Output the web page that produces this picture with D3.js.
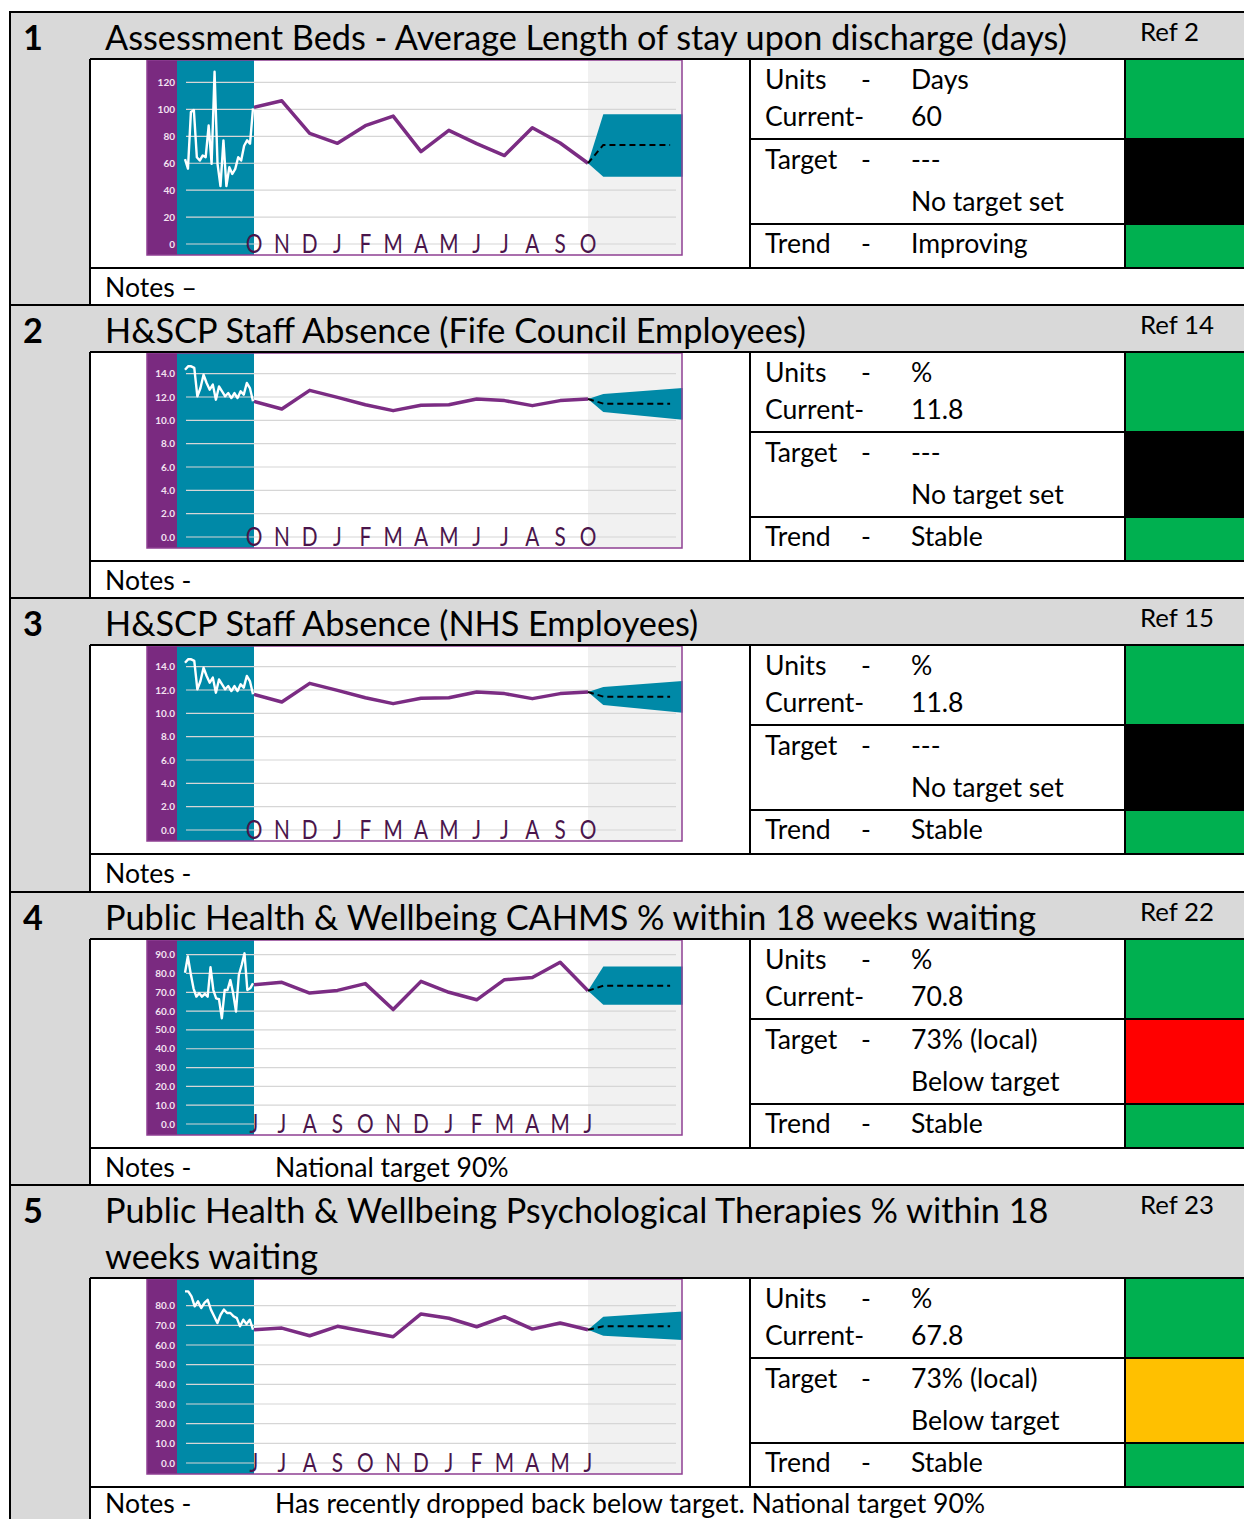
<!DOCTYPE html>
<html><head><meta charset="utf-8">
<script src="https://cdn.jsdelivr.net/npm/d3@7"></script>
<style>
body{margin:0;background:#fff}
svg{display:block}
text{font-family:Lato,"Open Sans",sans-serif}
</style>
</head><body>
<svg id="c" width="1244" height="1519"></svg>
<script>
// ---------------- DATA ----------------
const sectionNumbers = ["1","2","3","4","5"];
const titleLines = [
  ["Assessment Beds - Average Length of stay upon discharge (days)"],
  ["H&SCP Staff Absence (Fife Council Employees)"],
  ["H&SCP Staff Absence (NHS Employees)"],
  ["Public Health & Wellbeing CAHMS % within 18 weeks waiting"],
  ["Public Health & Wellbeing Psychological Therapies % within 18","weeks waiting"]
];
const refs = ["Ref 2","Ref 14","Ref 15","Ref 22","Ref 23"];
const units = ["Days","%","%","%","%"];
const currents = ["60","11.8","11.8","70.8","67.8"];
const targets = ["---","---","---","73% (local)","73% (local)"];
const targetNotes = ["No target set","No target set","No target set","Below target","Below target"];
const trends = ["Improving","Stable","Stable","Stable","Stable"];
const currentColors = ["#00b050","#00b050","#00b050","#00b050","#00b050"];
const targetColors = ["#000000","#000000","#000000","#ff0000","#ffc000"];
const trendColors = ["#00b050","#00b050","#00b050","#00b050","#00b050"];
const notesLabels = ["Notes \u2013","Notes -","Notes -","Notes -","Notes -"];
const notesTexts = ["","","","National target 90%","Has recently dropped back below target. National target 90%"];

const monthsOct = ["O","N","D","J","F","M","A","M","J","J","A","S","O"];
const monthsJun = ["J","J","A","S","O","N","D","J","F","M","A","M","J"];

// chart 1 : Assessment beds
const values1 = [101.5,106.4,82.2,74.8,87.9,95,68.6,84.4,74.6,65.7,86.4,75,60];
const spark1 = [63,56,98,99.5,64.5,62,65.8,64.5,88,59.5,128,59.5,43,77,43,57,52,55.8,64.5,62,73,77,74.5,100.8];
const fcMid1 = [60,73.6,73.6];
const fcUp1 = [60,96.3,96.3];
const fcLo1 = [60,50,50];
// chart 2 : Fife Council absence
const values2 = [11.63,10.97,12.57,11.97,11.34,10.83,11.29,11.34,11.83,11.69,11.26,11.69,11.83];
const spark2 = [14.34,14.63,14.63,14.5,12.06,12.77,13.91,13.2,12.63,13.06,11.77,12.9,12.49,12.06,12.34,11.91,12.34,11.91,12.49,12.2,13.2,12.77,11.63];
const fcMid2 = [11.83,11.43,11.43];
const fcUp2 = [11.83,12.26,12.77];
const fcLo2 = [11.83,10.72,10.06];
// chart 3 : NHS absence
const values3 = [11.63,10.97,12.57,11.97,11.34,10.83,11.29,11.34,11.83,11.69,11.26,11.69,11.83];
const spark3 = [14.34,14.63,14.63,14.5,12.06,12.77,13.91,13.2,12.63,13.06,11.77,12.9,12.49,12.06,12.34,11.91,12.34,11.91,12.49,12.2,13.2,12.77,11.63];
const fcMid3 = [11.83,11.43,11.43];
const fcUp3 = [11.83,12.26,12.77];
const fcLo3 = [11.83,10.72,10.06];
// chart 4 : CAHMS
const values4 = [74,75.3,69.6,71,74.6,60.8,75.8,70,66,76.7,77.9,86,70.8];
const spark4 = [80.4,89,80,72.1,67.7,69.5,67.7,69.1,67.7,83.3,71.2,66.8,66.3,56.2,71.2,71.2,76.5,69.5,59.7,79.2,84.5,90.7,71.2,72.1,74.8];
const fcMid4 = [70.8,73.5,73.5];
const fcUp4 = [70.8,83.7,83.7];
const fcLo4 = [70.8,63.4,63.4];
// chart 5 : Psychological therapies
const values5 = [67.8,68.6,64.7,69.5,66.9,64.2,75.8,73.6,69.3,74.4,68.1,71.2,67.8];
const spark5 = [87.3,87.3,84.7,79.7,82.2,78.8,81.4,83,78,74.6,71.2,75.4,78,76.3,76.3,74.6,73.7,69.5,72.9,70.7,72.9,67.8];
const fcMid5 = [67.8,69.5,69.5];
const fcUp5 = [67.8,74.4,77];
const fcLo5 = [67.8,64.7,62.5];

// forecast horizon (in months after the last observed month)
const bandX = [12,12.55,15.4];
const dashX = [12,12.55,14.95];

const yMaxes = [130,15,15,93,89];
const tickSteps = [20,2,2,10,10];
const tickFormats = ["d",".1f",".1f",".1f",".1f"];

const charts = [
  {months:monthsOct, values:values1, spark:spark1, mid:fcMid1, up:fcUp1, lo:fcLo1},
  {months:monthsOct, values:values2, spark:spark2, mid:fcMid2, up:fcUp2, lo:fcLo2},
  {months:monthsOct, values:values3, spark:spark3, mid:fcMid3, up:fcUp3, lo:fcLo3},
  {months:monthsJun, values:values4, spark:spark4, mid:fcMid4, up:fcUp4, lo:fcLo4},
  {months:monthsJun, values:values5, spark:spark5, mid:fcMid5, up:fcUp5, lo:fcLo5}
];

// ---------------- LAYOUT ----------------
const W = 1244, H = 1519;
const headerTops = [12,305,598,892,1185];
const headerHeights = [47,47,47,47,93];
const GRAY = "#d9d9d9", TEAL = "#0089a7", PURPLE = "#7b2c83", STRIP = "#7a2a80";

const svg = d3.select("#c");

// measure helper for font calibration
const meas = svg.append("text").attr("x",-9999).attr("y",-9999);
function widthAt(str, size, weight){
  meas.attr("font-size",size).attr("font-weight",weight||"normal").text(str);
  return meas.node().getComputedTextLength();
}
const titleTargetTotal = 973+698+587+926+948+214;
const titleMeasured = d3.sum(titleLines.flat(), t=>widthAt(t,100));
const titleSize = 100 * titleTargetTotal / titleMeasured;
const bodySize = 100 * (154+98) / (widthAt("No target set",100)+widthAt("Current-",100));
const refSize = 100 * 74 / widthAt("Ref 14",100);
meas.remove();

// base gray
svg.append("rect").attr("x",10).attr("y",12).attr("width",W-10).attr("height",H-12).attr("fill",GRAY);

const lines = svg.append("g");
function hline(y,x1,x2){lines.append("line").attr("x1",x1).attr("x2",x2).attr("y1",y).attr("y2",y).attr("stroke","#000").attr("stroke-width",2);}
function vline(x,y1,y2){lines.append("line").attr("x1",x).attr("x2",x).attr("y1",y1).attr("y2",y2).attr("stroke","#000").attr("stroke-width",2);}

headerTops.forEach((T,i)=>{
  const C = T + headerHeights[i];
  const last = i === headerTops.length-1;
  const nextTop = !last ? headerTops[i+1] : H+20;
  const g = svg.append("g");
  g.append("rect").attr("x",90).attr("y",C).attr("width",W-90).attr("height",nextTop-C).attr("fill","#fff");
  g.append("rect").attr("x",1125).attr("y",C).attr("width",W-1125).attr("height",80).attr("fill",currentColors[i]);
  g.append("rect").attr("x",1125).attr("y",C+80).attr("width",W-1125).attr("height",85).attr("fill",targetColors[i]);
  g.append("rect").attr("x",1125).attr("y",C+165).attr("width",W-1125).attr("height",44).attr("fill",trendColors[i]);

  g.append("text").attr("x",33).attr("y",T+26).attr("dy","0.36em").attr("text-anchor","middle")
    .attr("font-size",titleSize).attr("font-weight","bold").text(sectionNumbers[i]);
  titleLines[i].forEach((t,k)=>{
    g.append("text").attr("x",105).attr("y",T+26+k*46).attr("dy","0.36em")
      .attr("font-size",titleSize).text(t);
  });
  g.append("text").attr("x",1140).attr("y",T+20).attr("dy","0.36em").attr("font-size",refSize).text(refs[i]);

  const rows = [
    [C+20,"Units","-",units[i]],
    [C+57,"Current-","",currents[i]],
    [C+100,"Target","-",targets[i]],
    [C+142,"","",targetNotes[i]],
    [C+184,"Trend","-",trends[i]]
  ];
  rows.forEach(r=>{
    g.append("text").attr("x",765).attr("y",r[0]).attr("dy","0.36em").attr("font-size",bodySize).text(r[1]);
    g.append("text").attr("x",866).attr("y",r[0]).attr("dy","0.36em").attr("text-anchor","middle").attr("font-size",bodySize).text(r[2]);
    g.append("text").attr("x",911).attr("y",r[0]).attr("dy","0.36em").attr("font-size",bodySize).text(r[3]);
  });
  const ny = last ? C+225 : C+228;
  g.append("text").attr("x",105).attr("y",ny).attr("dy","0.36em").attr("font-size",bodySize).text(notesLabels[i]);
  g.append("text").attr("x",275).attr("y",ny).attr("dy","0.36em").attr("font-size",bodySize).text(notesTexts[i]);

  drawChart(svg.append("g").attr("transform",`translate(0,${C})`), charts[i], yMaxes[i], tickSteps[i], tickFormats[i]);

  hline(T,10,W);
  hline(C,90,W);
  vline(90,C,nextTop);
  vline(750,C,C+209);
  vline(1125,C,C+209);
  hline(C+80,750,W);
  hline(C+165,750,W);
  hline(C+209,90,W);
});
vline(10,11,H);
lines.raise();

function drawChart(g, d, yMax, step, fmt){
  const x = d3.scaleLinear().domain([0,12]).range([254,588]);
  const y = d3.scaleLinear().domain([0,yMax]).range([185,10]);
  const boxL = 147, boxR = 682, boxT = 1, boxB = 196;
  g.append("rect").attr("x",boxL).attr("y",boxT).attr("width",boxR-boxL).attr("height",boxB-boxT).attr("fill","#fff");
  g.append("rect").attr("x",x(12)).attr("y",boxT).attr("width",boxR-x(12)).attr("height",boxB-boxT).attr("fill","#f1f1f1");
  g.append("rect").attr("x",boxL).attr("y",boxT).attr("width",30).attr("height",boxB-boxT).attr("fill",STRIP);
  g.append("rect").attr("x",boxL+30).attr("y",boxT).attr("width",x(0)-boxL-30).attr("height",boxB-boxT).attr("fill",TEAL);

  const ticks = d3.range(0, yMax+1e-9, step);
  const f = d3.format(fmt);
  g.append("g").selectAll("line").data(ticks).join("line")
    .attr("x1",186).attr("x2",676).attr("y1",d=>y(d)).attr("y2",d=>y(d))
    .attr("stroke","#d6d6d6").attr("stroke-width",1.2);
  g.append("g").selectAll("text").data(ticks).join("text")
    .attr("x",175).attr("y",d=>y(d)).attr("dy","0.35em").attr("text-anchor","end")
    .attr("font-size",10).attr("font-weight","bold").attr("fill","#f3e2f1").text(d=>f(d));

  const band = bandX.map((bx,k)=>({x:bx, lo:d.lo[k], up:d.up[k]}));
  g.append("path").datum(band)
    .attr("d", d3.area().x(p=>x(p.x)).y0(p=>y(p.lo)).y1(p=>y(p.up)))
    .attr("fill",TEAL);

  const xs = d3.scaleLinear().domain([0,d.spark.length-1]).range([185,x(0)-1]);
  g.append("path").datum(d.spark)
    .attr("d", d3.line().x((v,k)=>xs(k)).y(v=>y(v)))
    .attr("fill","none").attr("stroke","#fff").attr("stroke-width",2.4).attr("stroke-linejoin","round");

  g.append("path").datum(d.values)
    .attr("d", d3.line().x((v,k)=>x(k)).y(v=>y(v)))
    .attr("fill","none").attr("stroke",PURPLE).attr("stroke-width",3.5).attr("stroke-linejoin","round");

  const dash = dashX.map((dx,k)=>({x:dx, v:d.mid[k]}));
  g.append("path").datum(dash)
    .attr("d", d3.line().x(p=>x(p.x)).y(p=>y(p.v)))
    .attr("fill","none").attr("stroke","#000").attr("stroke-width",2).attr("stroke-dasharray","6,4");

  g.append("g").selectAll("text").data(d.months).join("text")
    .attr("transform",(m,k)=>`translate(${x(k)},194) scale(0.8,1)`)
    .attr("text-anchor","middle")
    .attr("font-family","'Liberation Sans','DejaVu Sans',sans-serif")
    .attr("font-size",26).attr("fill","#4a154b").text(m=>m);

  g.append("rect").attr("x",boxL).attr("y",boxT).attr("width",boxR-boxL).attr("height",boxB-boxT)
    .attr("fill","none").attr("stroke","#8e3f92").attr("stroke-width",1.5);
}
</script>
</body></html>
